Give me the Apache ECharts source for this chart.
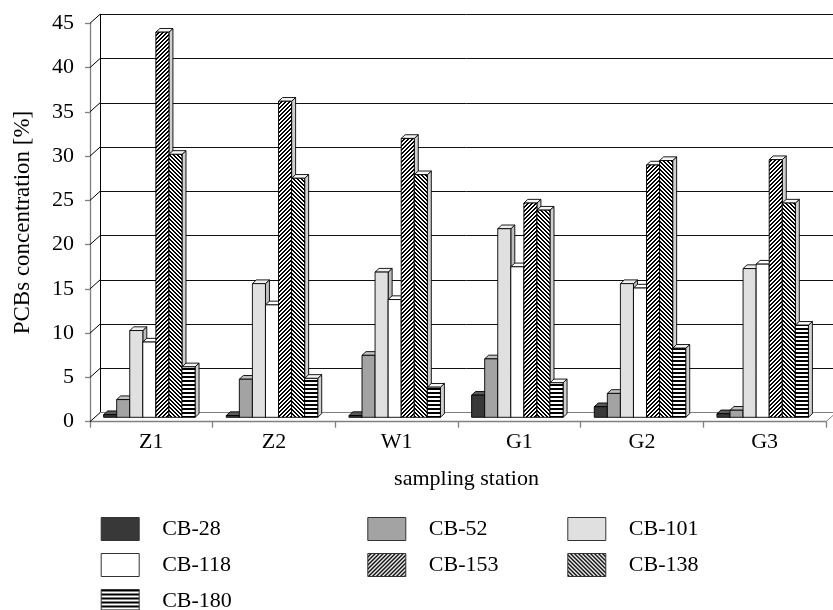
<!DOCTYPE html>
<html><head><meta charset="utf-8">
<script src="https://cdn.jsdelivr.net/npm/echarts@6/dist/echarts.min.js"></script>
<style>html,body{margin:0;padding:0;background:#fff}#c{width:833px;height:610px}</style>
</head><body><div id="c"></div>
<script>
var categories = ['Z1','Z2','W1','G1','G2','G3'];
var seriesNames = ['CB-28','CB-52','CB-101','CB-118','CB-153','CB-138','CB-180'];
var cb28  = [0.3, 0.2, 0.2, 2.5, 1.2, 0.4];
var cb52  = [2.0, 4.3, 7.0, 6.6, 2.7, 0.8];
var cb101 = [9.8, 15.1, 16.4, 21.3, 15.1, 16.8];
var cb118 = [8.5, 12.7, 13.3, 17.0, 14.6, 17.3];
var cb153 = [43.5, 35.7, 31.5, 24.2, 28.5, 29.1];
var cb138 = [29.7, 27.0, 27.4, 23.4, 29.0, 24.2];
var cb180 = [5.7, 4.4, 3.4, 3.9, 7.8, 10.4];
var yTicks = [0,5,10,15,20,25,30,35,40,45];

var FONT = "'Liberation Serif','Times New Roman',serif";
var DEPTH_X = 10, DEPTH_Y = 9;     // wall depth offset
var BAR_DX = -2, BAR_DY = -4.4;    // bar front face offset
var BAR_D = 4, BAR_DV = 3.7;       // bar depth
var BAR_FRAC = 0.1065;

function tile(kind){
  var c = document.createElement('canvas');
  var s = 4; c.width = s; c.height = s;
  var g = c.getContext('2d');
  g.fillStyle = '#fff'; g.fillRect(0,0,s,s);
  g.fillStyle = '#000';
  for (var x = 0; x < s; x++) {
    for (var y = 0; y < s; y++) {
      var on;
      if (kind === 'fwd') on = ((x + y) % s) >= 2;
      else if (kind === 'back') on = ((x - y + s * 2) % s) >= 2;
      else on = (y % s) < 2;
      if (on) g.fillRect(x, y, 1, 1);
    }
  }
  return {image: c, repeat: 'repeat'};
}

var seriesValues = [cb28, cb52, cb101, cb118, cb153, cb138, cb180];
var fronts = ['#383838', '#a3a3a3', '#e0e0e0', '#ffffff', tile('fwd'), tile('back'), tile('horiz')];
var tops   = ['#5a5a5a', '#c2c2c2', '#f0f0f0', '#ffffff', '#f6f6f6', '#f6f6f6', '#f6f6f6'];
var sides  = ['#1e1e1e', '#7a7a7a', '#bdbdbd', '#dcdcdc', '#d0d0d0', '#d0d0d0', '#d0d0d0'];

function makeRender(si){
  return function(params, api){
    var cat = api.value(0), v = api.value(1);
    var base = api.coord([cat, 0]);
    var top = api.coord([cat, v]);
    var band = api.size([1, 0])[0];
    var bw = band * BAR_FRAC;
    var x0 = base[0] + BAR_DX - 3.5 * bw + si * bw;
    var x1 = x0 + bw;
    var yb = base[1] + BAR_DY, yt = top[1] + BAR_DY;
    var st = {stroke: '#000', lineWidth: 0.9};
    return {type: 'group', children: [
      {type: 'polygon', shape: {points: [[x1, yt],[x1 + BAR_D, yt - BAR_DV],[x1 + BAR_D, yb - BAR_DV],[x1, yb]]},
        style: Object.assign({fill: sides[si]}, st)},
      {type: 'polygon', shape: {points: [[x0, yt],[x0 + BAR_D, yt - BAR_DV],[x1 + BAR_D, yt - BAR_DV],[x1, yt]]},
        style: Object.assign({fill: tops[si]}, st)},
      {type: 'rect', shape: {x: x0, y: yt, width: bw, height: yb - yt},
        style: Object.assign({fill: fronts[si]}, st)}
    ]};
  };
}

var series = seriesValues.map(function(vals, si){
  return {
    type: 'custom', name: seriesNames[si], xAxisIndex: 0, yAxisIndex: 0,
    itemStyle: {color: fronts[si]},
    data: vals.map(function(v, i){ return [i, v]; }),
    encode: {x: 0, y: 1},
    renderItem: makeRender(si), z: 5
  };
});

series.push({
  type: 'custom', name: 'wallEdges', xAxisIndex: 0, yAxisIndex: 0, silent: true, z: 3,
  data: yTicks.map(function(v){ return [0, v]; }),
  encode: {x: 0, y: 1},
  renderItem: function(params, api){
    var v = api.value(1);
    var p = api.coord([0, v]);
    var cs = params.coordSys;
    var ch = [{type: 'line', shape: {x1: cs.x, y1: p[1], x2: cs.x + DEPTH_X, y2: p[1] - DEPTH_Y},
      style: {stroke: '#000', lineWidth: 1}}];
    if (v === 0) {
      ch.push({type: 'line', shape: {x1: cs.x + cs.width, y1: p[1], x2: cs.x + cs.width + DEPTH_X, y2: p[1] - DEPTH_Y},
        style: {stroke: '#808080', lineWidth: 1}});
    }
    return {type: 'group', children: ch};
  }
});

function legendData(names){
  return names.map(function(n){
    var si = seriesNames.indexOf(n);
    return {name: n, icon: 'rect', itemStyle: {color: fronts[si], borderColor: '#333', borderWidth: 1}};
  });
}
var legendCommon = {
  orient: 'vertical', top: 517, height: 120, itemWidth: 38, itemHeight: 23, itemGap: 12, padding: 0,
  selectedMode: false,
  textStyle: {fontFamily: FONT, fontSize: 22, color: '#000', padding: [0, 0, 0, 18]}
};

var option = {
  animation: false,
  backgroundColor: '#fff',
  grid: [
    {left: 90, top: 23.3, width: 736, height: 398.4},
    {left: 90 + DEPTH_X, top: 23.3 - DEPTH_Y, width: 736, height: 398.4}
  ],
  legend: [
    Object.assign({left: 100.7, data: legendData(['CB-28','CB-118','CB-180'])}, legendCommon),
    Object.assign({left: 367.3, data: legendData(['CB-52','CB-153'])}, legendCommon),
    Object.assign({left: 567.3, data: legendData(['CB-101','CB-138'])}, legendCommon)
  ],
  xAxis: [
    {type: 'category', gridIndex: 0, data: categories,
      axisLine: {lineStyle: {color: '#808080', width: 1.3}},
      axisTick: {show: true, length: 6, lineStyle: {color: '#808080', width: 1.3}},
      axisLabel: {fontFamily: FONT, fontSize: 22, color: '#000', margin: 10}},
    {type: 'category', gridIndex: 1, data: categories,
      axisLine: {lineStyle: {color: '#808080', width: 1}},
      axisTick: {show: false}, axisLabel: {show: false},
      name: 'sampling station', nameLocation: 'middle', nameGap: 56,
      nameTextStyle: {fontFamily: FONT, fontSize: 22, color: '#000'}}
  ],
  yAxis: [
    {type: 'value', gridIndex: 0, min: 0, max: 45, interval: 5,
      axisLine: {show: true, lineStyle: {color: '#808080', width: 1.3}},
      axisTick: {show: true, length: 5, lineStyle: {color: '#808080', width: 1.3}},
      axisLabel: {fontFamily: FONT, fontSize: 22, color: '#000', margin: 16},
      splitLine: {show: false},
      name: 'PCBs concentration [%]', nameLocation: 'middle', nameGap: 56,
      nameTextStyle: {fontFamily: FONT, fontSize: 23, color: '#000'}},
    {type: 'value', gridIndex: 1, min: 0, max: 45, interval: 5,
      axisLine: {show: true, lineStyle: {color: '#000', width: 1}},
      axisTick: {show: false}, axisLabel: {show: false},
      splitLine: {show: true, lineStyle: {color: '#111', width: 1}}}
  ],
  series: series
};

var chart = echarts.init(document.getElementById('c'));
chart.setOption(option);
</script>
</body></html>
